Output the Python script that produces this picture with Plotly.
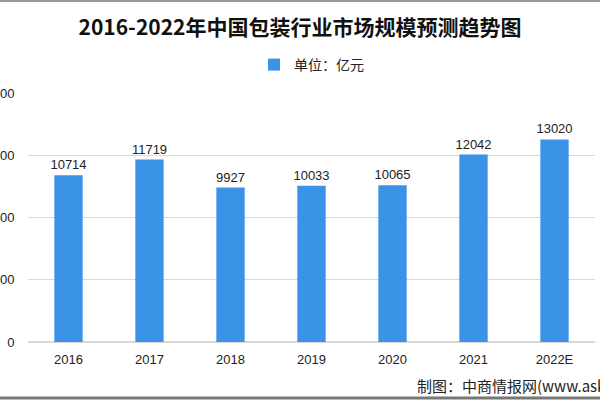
import plotly.graph_objects as go

years = ["2016", "2017", "2018", "2019", "2020", "2021", "2022E"]
values = [10714, 11719, 9927, 10033, 10065, 12042, 13020]
y_ticks = [0, 4000, 8000, 12000, 16000]
title_text = "2016-2022年中国包装行业市场规模预测趋势图"
series_name = "单位：亿元"
source_text = "制图：中商情报网(www.askci.com)"

W, H = 600, 400
ml, mr, mt, mb = 28, 5, 93, 58
ph = H - mt - mb


def py(pix):
    """Convert a pixel row (from top) to paper y."""
    return (H - mb - pix) / ph


fig = go.Figure()
fig.add_trace(go.Bar(
    x=years, y=values, name=series_name,
    marker=dict(color="#3b93e8", line=dict(width=0)),
    text=[str(v) for v in values], textposition="outside",
    constraintext="none",
    textfont=dict(family="Liberation Sans, Arial, sans-serif", size=13, color="#222"),
    cliponaxis=False,
))

fig.update_layout(
    width=W, height=H,
    margin=dict(l=ml, r=mr, t=mt, b=mb, autoexpand=False),
    paper_bgcolor="white", plot_bgcolor="white",
    bargap=0.65,
    showlegend=True,
    legend=dict(orientation="h", x=0.5, xanchor="center", y=py(65), yanchor="middle",
                font=dict(family="Noto Sans CJK SC", size=14, color="#222"),
                itemwidth=30, itemsizing="constant"),
    title=dict(text="<b>" + title_text + "</b>", x=0.5, xanchor="center",
               y=0.932, yanchor="middle", yref="container",
               font=dict(family="Noto Sans CJK SC", size=21, color="#111")),
    xaxis=dict(type="category", showgrid=False, showline=False, zeroline=False,
               automargin=False,
               ticks="outside", ticklen=5, tickcolor="rgba(0,0,0,0)",
               tickfont=dict(family="Liberation Sans, Arial, sans-serif", size=13, color="#222")),
    yaxis=dict(range=[0, 16000], tickvals=y_ticks, ticktext=[str(t) for t in y_ticks],
               showgrid=True, gridcolor="#d9d9d9", automargin=False,
               zeroline=True, zerolinecolor="#d9d9d9", showline=False,
               ticks="outside", ticklen=10, tickcolor="rgba(0,0,0,0)",
               tickfont=dict(family="Liberation Sans, Arial, sans-serif", size=13, color="#222")),
    annotations=[dict(text=source_text, xref="paper", yref="paper",
                      x=(415 - ml) / (W - ml - mr), y=py(385),
                      xanchor="left", yanchor="middle", showarrow=False,
                      font=dict(family="Noto Sans CJK SC", size=15, color="#222"))],
    shapes=[
        dict(type="line", xref="paper", yref="paper", x0=-0.1, x1=1.1,
             y0=py(1), y1=py(1), line=dict(color="#999", width=2)),
        dict(type="line", xref="paper", yref="paper", x0=-0.1, x1=1.1,
             y0=py(398), y1=py(398), line=dict(color="#777", width=3)),
    ],
)

fig.write_html("out.html")
